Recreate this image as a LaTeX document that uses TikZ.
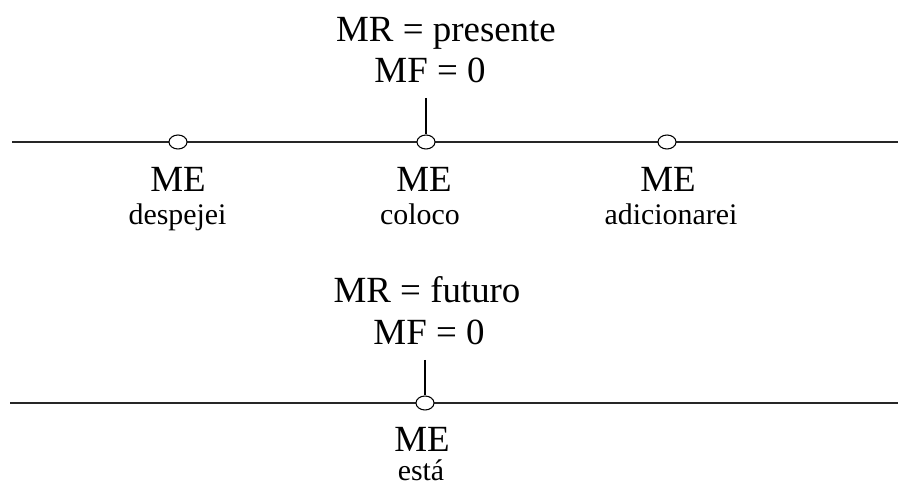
\documentclass[tikz,border=0pt]{standalone}
\usepackage{fontspec}
\setmainfont{Liberation Serif}
\usetikzlibrary{shapes.geometric}

\begin{document}
\begin{tikzpicture}[
  axis line/.style={line width=1.1pt, black!85},
  tick line/.style={line width=0.6pt},
  mark dot/.style={ellipse, draw, line width=0.6pt, fill=white, minimum width=0.36cm, minimum height=0.28cm, inner sep=0pt},
  big label/.style={anchor=base, inner sep=0pt, font=\fontsize{21}{25}\selectfont},
  small label/.style={anchor=base, inner sep=0pt, font=\fontsize{17}{20}\selectfont},
]
  \useasboundingbox (0,0) rectangle (17.96,-9.74);

  % Presente
  \node[big label] (mr1) at (8.92, -0.84) {MR = presente};
  \node[big label] (mf1) at (8.60, -1.66) {MF = 0};
  \coordinate (t1) at (8.52, -1.96);
  \coordinate (l1a) at (0.24, -2.84);
  \coordinate (l1b) at (17.96, -2.84);
  \draw[axis line] (l1a) -- (l1b);
  \node[mark dot] (p1) at (3.56, -2.84) {};
  \node[mark dot] (p2) at (8.52, -2.84) {};
  \node[mark dot] (p3) at (13.34, -2.84) {};
  \draw[tick line] (t1) -- (p2.north);

  \node[big label] (me1) at (3.56, -3.84) {ME};
  \node[big label] (me2) at (8.48, -3.84) {ME};
  \node[big label] (me3) at (13.36, -3.84) {ME};
  \node[small label] (w1) at (3.55, -4.50) {despejei};
  \node[small label] (w2) at (8.40, -4.50) {coloco};
  \node[small label] (w3) at (13.42, -4.50) {adicionarei};

  % Futuro
  \node[big label] (mr2) at (8.54, -6.06) {MR = futuro};
  \node[big label] (mf2) at (8.58, -6.90) {MF = 0};
  \coordinate (t2) at (8.50, -7.20);
  \coordinate (l2a) at (0.20, -8.06);
  \coordinate (l2b) at (17.96, -8.06);
  \draw[axis line] (l2a) -- (l2b);
  \node[mark dot] (p4) at (8.50, -8.06) {};
  \draw[tick line] (t2) -- (p4.north);

  \node[big label] (me4) at (8.44, -9.04) {ME};
  \node[small label] (w4) at (8.42, -9.62) {está};

\end{tikzpicture}
\end{document}
